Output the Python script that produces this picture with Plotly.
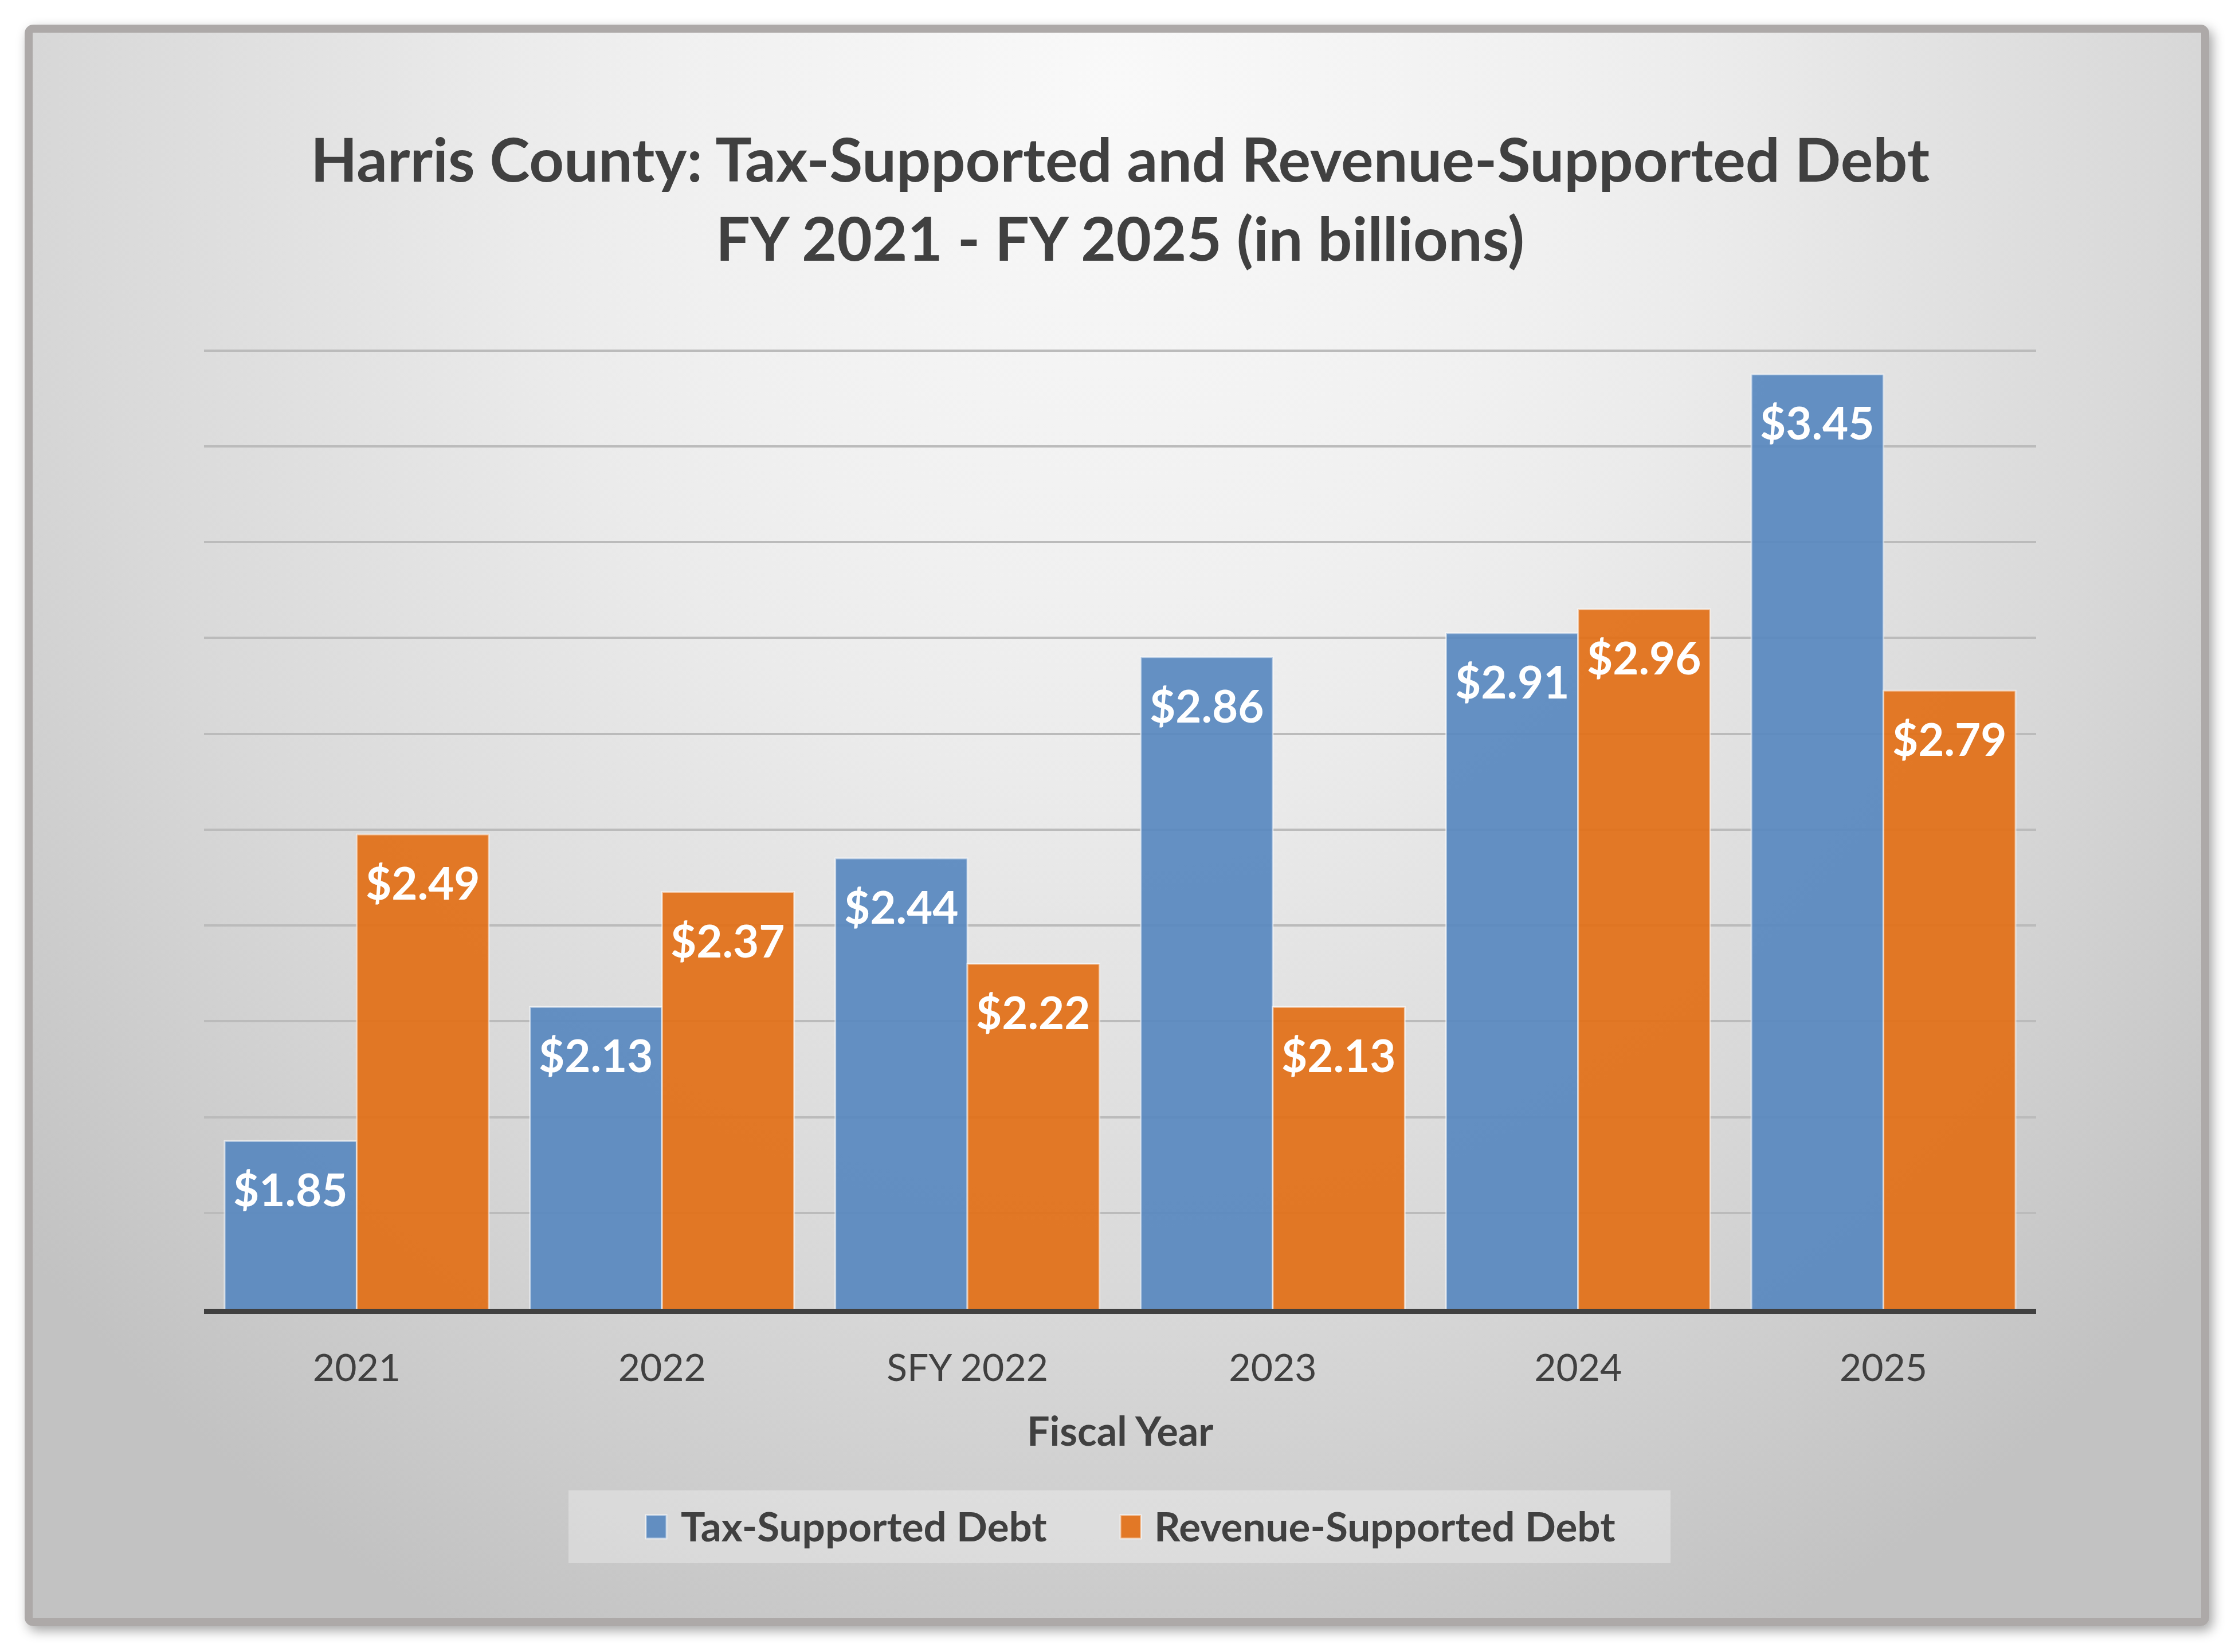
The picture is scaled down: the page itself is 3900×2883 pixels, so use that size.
import base64
import plotly.graph_objects as go

# ---------------- data ----------------
categories = ["2021", "2022", "SFY 2022", "2023", "2024", "2025"]
tax_supported = [1.85, 2.13, 2.44, 2.86, 2.91, 3.45]
revenue_supported = [2.49, 2.37, 2.22, 2.13, 2.96, 2.79]
series_names = ["Tax-Supported Debt", "Revenue-Supported Debt"]
title_lines = ["Harris County: Tax-Supported and Revenue-Supported Debt",
               "FY 2021 - FY 2025 (in billions)"]
x_title = "Fiscal Year"
y_range = [1.5, 3.5]
y_step = 0.2

# ---------------- layout constants ----------------
W, H = 3900, 2883
L, R, T, B = 356, 347, 610, 599
PW, PH = W - L - R, H - T - B
FONT = "Lato"
TEXT = "#404040"
BLUE = "rgba(88,136,191,0.92)"
ORANGE = "rgba(226,111,22,0.92)"
BAR_LINE = "rgba(255,255,255,0.55)"
BARGAP = 0.135


def px_x(px):
    return (px - L) / PW


def px_y(py):
    return (H - B - py) / PH


# ---------------- background (gradient card with frame and shadow) ----------------
svg = f"""<svg xmlns='http://www.w3.org/2000/svg' width='{W}' height='{H}' viewBox='0 0 {W} {H}'>
<defs>
<radialGradient id='g' gradientUnits='userSpaceOnUse' cx='1950' cy='150' r='3000'
 gradientTransform='translate(1950 150) scale(0.8667 1) translate(-1950 -150)'>
<stop offset='0' stop-color='#F9F9F9'/>
<stop offset='0.30' stop-color='#F0F0F0'/>
<stop offset='0.41' stop-color='#EBEBEB'/>
<stop offset='0.50' stop-color='#E5E5E5'/>
<stop offset='0.63' stop-color='#DDDDDD'/>
<stop offset='0.70' stop-color='#D9D9D9'/>
<stop offset='0.78' stop-color='#D3D3D3'/>
<stop offset='1.0' stop-color='#C2C2C2'/>
</radialGradient>
<filter id='s' x='-3%' y='-3%' width='106%' height='106%'>
<feDropShadow dx='6' dy='8' stdDeviation='10' flood-color='#000000' flood-opacity='0.35'/>
</filter>
</defs>
<rect x='0' y='0' width='{W}' height='{H}' fill='#FFFFFF'/>
<rect x='50' y='50' width='3798' height='2781' rx='8' ry='8' fill='url(#g)' stroke='#ADA9A8' stroke-width='14' filter='url(#s)'/>
</svg>"""
bg_src = "data:image/svg+xml;base64," + base64.b64encode(svg.encode("utf-8")).decode("ascii")

# ---------------- traces ----------------
fig = go.Figure()
fig.add_trace(go.Bar(x=categories, y=tax_supported, name=series_names[0],
                     marker=dict(color=BLUE, line=dict(color=BAR_LINE, width=3)),
                     showlegend=False, hoverinfo="x+y"))
fig.add_trace(go.Bar(x=categories, y=revenue_supported, name=series_names[1],
                     marker=dict(color=ORANGE, line=dict(color=BAR_LINE, width=3)),
                     showlegend=False, hoverinfo="x+y"))

# ---------------- data labels ----------------
bar_w = (1 - BARGAP) / 2
offsets = [-bar_w / 2, bar_w / 2]
annotations = []
for s, vals in enumerate([tax_supported, revenue_supported]):
    for i, v in enumerate(vals):
        annotations.append(dict(
            x=i + offsets[s], y=v, xref="x", yref="y", text=f"${v:.2f}",
            showarrow=False, yanchor="middle", xanchor="center", yshift=-84,
            font=dict(family=FONT, size=78, color="#FFFFFF", weight="bold")))

# x-axis title
annotations.append(dict(x=0.5, y=px_y(2496), xref="paper", yref="paper", text=x_title,
                        showarrow=False, xanchor="center", yanchor="middle",
                        font=dict(family=FONT, size=70, color=TEXT, weight="bold")))

# ---------------- custom legend ----------------
shapes = [
    dict(type="rect", xref="paper", yref="paper", x0=px_x(992), x1=px_x(2915),
         y0=px_y(2728), y1=px_y(2601), fillcolor="rgba(255,255,255,0.3)",
         line=dict(width=0), layer="below"),
]
legend_items = [(series_names[0], BLUE, 1127, 1186), (series_names[1], ORANGE, 1955, 2012)]
for name, color, sx, tx in legend_items:
    shapes.append(dict(type="rect", xref="paper", yref="paper", x0=px_x(sx), x1=px_x(sx + 36),
                       y0=px_y(2685), y1=px_y(2644), fillcolor=color,
                       line=dict(color=BAR_LINE, width=3)))
    annotations.append(dict(x=px_x(tx), y=px_y(2662), xref="paper", yref="paper", text=name,
                            showarrow=False, xanchor="left", yanchor="middle",
                            font=dict(family=FONT, size=71, color=TEXT, weight="bold")))

fig.update_layout(
    width=W, height=H,
    margin=dict(l=L, r=R, t=T, b=B, pad=0),
    paper_bgcolor="#FFFFFF",
    plot_bgcolor="rgba(0,0,0,0)",
    barmode="group", bargap=BARGAP, bargroupgap=0,
    title=dict(text="<br>".join(title_lines), x=0.5, xanchor="center", xref="paper",
               y=1 - 317 / H, yref="container", yanchor="middle",
               font=dict(family=FONT, size=106, color=TEXT, weight="bold")),
    xaxis=dict(type="category", showline=True, linecolor=TEXT, linewidth=9,
               ticks="", showgrid=False, zeroline=False,
               tickfont=dict(family=FONT, size=66, color=TEXT),
               ticklabelstandoff=38),
    yaxis=dict(range=[y_range[0], y_range[1] + 0.002], dtick=y_step, tick0=y_range[0],
               showticklabels=False,
               showgrid=True, gridcolor="#BBBBBB", gridwidth=4, zeroline=False,
               showline=False, ticks=""),
    images=[dict(source=bg_src, xref="paper", yref="paper", x=px_x(0), y=px_y(0),
                 sizex=W / PW, sizey=H / PH, xanchor="left", yanchor="top",
                 sizing="stretch", layer="below")],
    shapes=shapes,
    annotations=annotations,
    showlegend=False,
)

fig.write_html("out.html")
